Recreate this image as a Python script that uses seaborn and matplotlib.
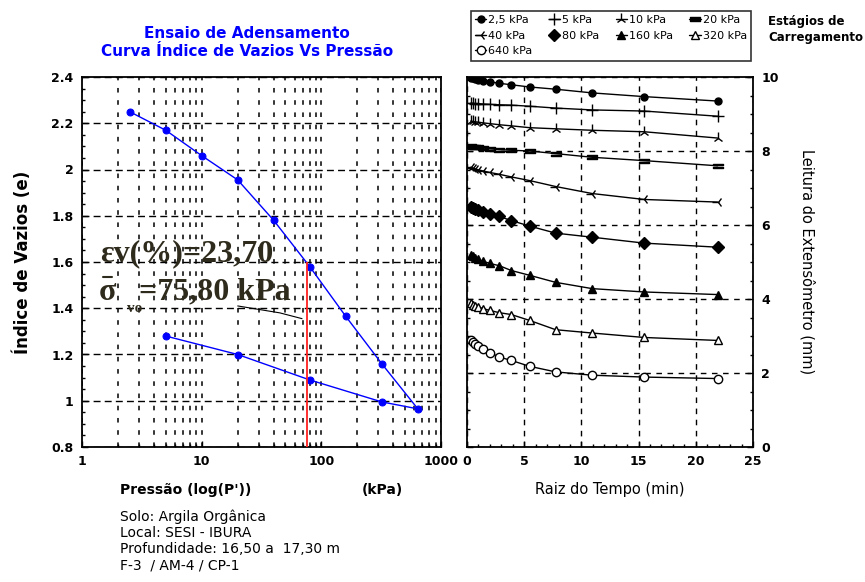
import numpy as np
import pandas as pd
import matplotlib
matplotlib.use("Agg")
import matplotlib.pyplot as plt
from matplotlib.lines import Line2D
from matplotlib.ticker import MultipleLocator, FuncFormatter, LogLocator
import seaborn as sns

# ---------------- data ----------------
pressao = [2.5, 5, 10, 20, 40, 80, 160, 320, 640, 320, 80, 20, 5]
indice_vazios = [2.25, 2.17, 2.06, 1.955, 1.78, 1.58, 1.365, 1.16, 0.965, 0.995, 1.09, 1.20, 1.28]
sigma_vo = 75.8
e_sigma_top = 1.6
ev_txt = "εv(%)=23,70"
sig_txt = "=75,80 kPa"

raiz_tempo = [0.32, 0.5, 0.71, 1.0, 1.41, 2.0, 2.83, 3.87, 5.48, 7.75, 10.95, 15.49, 21.91]
estagios = ["2,5 kPa", "5 kPa", "10 kPa", "20 kPa", "40 kPa", "80 kPa", "160 kPa", "320 kPa", "640 kPa"]
leit_2_5 = [9.97, 9.96, 9.95, 9.93, 9.90, 9.87, 9.83, 9.79, 9.73, 9.67, 9.57, 9.47, 9.35]
leit_5 = [9.29, 9.29, 9.28, 9.28, 9.27, 9.26, 9.25, 9.24, 9.21, 9.16, 9.11, 9.08, 8.94]
leit_10 = [8.81, 8.80, 8.79, 8.78, 8.76, 8.74, 8.71, 8.68, 8.63, 8.60, 8.56, 8.52, 8.35]
leit_20 = [8.13, 8.12, 8.11, 8.10, 8.08, 8.06, 8.04, 8.02, 8.00, 7.93, 7.83, 7.74, 7.60]
leit_40 = [7.56, 7.54, 7.52, 7.49, 7.46, 7.42, 7.37, 7.30, 7.20, 7.04, 6.85, 6.69, 6.62]
leit_80 = [6.49, 6.46, 6.43, 6.40, 6.35, 6.30, 6.23, 6.12, 5.97, 5.78, 5.67, 5.51, 5.40]
leit_160 = [5.19, 5.15, 5.11, 5.07, 5.02, 4.96, 4.90, 4.77, 4.64, 4.45, 4.28, 4.19, 4.12]
leit_320 = [3.88, 3.85, 3.82, 3.78, 3.74, 3.69, 3.63, 3.58, 3.42, 3.17, 3.08, 2.96, 2.88]
leit_640 = [2.88, 2.84, 2.79, 2.73, 2.66, 2.55, 2.43, 2.34, 2.18, 2.03, 1.94, 1.89, 1.85]
leituras = [leit_2_5, leit_5, leit_10, leit_20, leit_40, leit_80, leit_160, leit_320, leit_640]

info_txt = "Solo: Argila Orgânica\nLocal: SESI - IBURA\nProfundidade: 16,50 a  17,30 m\nF-3  / AM-4 / CP-1"

# ---------------- style ----------------
sns.set_theme(style="white", rc={
    "xtick.direction": "in", "ytick.direction": "in",
    "axes.edgecolor": "black", "axes.linewidth": 1.3,
    "text.color": "black", "axes.labelcolor": "black",
    "xtick.color": "black", "ytick.color": "black",
})
plt.rcParams["font.family"] = ["DejaVu Sans"]

W, H = 865, 582
fig = plt.figure(figsize=(W / 100, H / 100), dpi=100)

def fx(px):
    return px / W

def fy(py):
    return 1 - py / H

ax1 = fig.add_axes([fx(82), fy(447), fx(441) - fx(82), fy(77) - fy(447)])
ax2 = fig.add_axes([fx(467), fy(447), fx(753) - fx(467), fy(77) - fy(447)])

# ---------------- left plot ----------------
df1 = pd.DataFrame({"P": pressao, "e": indice_vazios})
sns.lineplot(data=df1, x="P", y="e", sort=False, estimator=None, errorbar=None, ax=ax1,
             color="#0000ff", marker="o", markersize=5, markeredgecolor="#0000ff", linewidth=1)
ax1.set_xscale("log")
ax1.set_xlim(1, 1000)
ax1.set_ylim(0.8, 2.4)
ax1.yaxis.set_major_locator(MultipleLocator(0.2))
ax1.yaxis.set_minor_locator(MultipleLocator(0.05))
ax1.xaxis.set_major_locator(LogLocator(base=10))
ax1.xaxis.set_minor_locator(LogLocator(base=10, subs=np.arange(2, 10)))
ax1.xaxis.set_major_formatter(FuncFormatter(lambda v, p: f"{v:g}"))
ax1.xaxis.set_minor_formatter(FuncFormatter(lambda v, p: ""))
ax1.yaxis.set_major_formatter(FuncFormatter(lambda v, p: f"{v:g}"))
ax1.grid(True, axis="y", which="major", color="black", linestyle=(0, (5, 3)), linewidth=1)
ax1.grid(True, axis="x", which="both", color="black", linestyle=(0, (3, 5)), linewidth=1.1)
ax1.tick_params(axis="both", which="major", length=4, width=1, labelsize=9, pad=6,
                left=True, bottom=True, right=False, top=False)
ax1.tick_params(axis="both", which="minor", length=2.5, width=1, left=True, bottom=True)
for lab in ax1.get_xticklabels() + ax1.get_yticklabels():
    lab.set_fontweight("bold")
ax1.set_xlabel("")
ax1.set_ylabel("Índice de Vazios (e)", fontsize=12, fontweight="bold", labelpad=14)
ax1.vlines(sigma_vo, 0.8, e_sigma_top, color="#ff2020", linewidth=1.3, zorder=3)
ax1.plot([20, 45, 69], [1.41, 1.38, 1.355], color="black", linewidth=0.8)

fig.text(fx(247), fy(33), "Ensaio de Adensamento", color="#0000ff", fontsize=11,
         fontweight="bold", ha="center", va="center")
fig.text(fx(247), fy(52), "Curva Índice de Vazios Vs Pressão", color="#0000ff", fontsize=11,
         fontweight="bold", ha="center", va="center")

serif = ["Liberation Serif", "DejaVu Serif"]
tcol = "#2e2a1c"
fig.text(fx(100), fy(254), ev_txt, family=serif, fontsize=23, fontweight="bold",
         color=tcol, va="center", ha="left")
fig.text(fx(99), fy(292), "σ", family=serif, fontsize=23, fontweight="bold",
         color=tcol, va="center", ha="left")
fig.add_artist(Line2D([fx(103), fx(112)], [fy(277), fy(277)], color=tcol, linewidth=1.5))
fig.text(fx(127), fy(309), "vo", family=serif, fontsize=11, fontweight="bold",
         color=tcol, va="center", ha="left")
fig.text(fx(139), fy(292), sig_txt, family=serif, fontsize=23, fontweight="bold",
         color=tcol, va="center", ha="left")

fig.text(fx(120), fy(490), "Pressão (log(P'))", fontsize=10, fontweight="bold",
         va="center", ha="left")
fig.text(fx(362), fy(490), "(kPa)", fontsize=10, fontweight="bold", va="center", ha="left")
fig.text(fx(120), fy(509), info_txt, fontsize=10, va="top", ha="left", linespacing=1.2)

# ---------------- right plot ----------------
marcadores = ["o", "+", "2", "$=$", "3", "D", "^", "^", "o"]
abertos = [False, False, False, False, False, False, False, True, True]
tamanhos = [5, 9, 8, 7, 8, 6, 6, 6, 6]
for nome, vals, mk, ab, ms in zip(estagios, leituras, marcadores, abertos, tamanhos):
    d = pd.DataFrame({"raiz": raiz_tempo, "leitura": vals})
    sns.lineplot(data=d, x="raiz", y="leitura", ax=ax2, color="black", linewidth=1,
                 marker=mk, markersize=ms, markeredgewidth=1,
                 markerfacecolor=("white" if ab else "black"),
                 markeredgecolor="black", label=nome, sort=False, estimator=None)

ax2.set_xlim(0, 25)
ax2.set_ylim(0, 10)
ax2.xaxis.set_major_locator(MultipleLocator(5))
ax2.xaxis.set_minor_locator(MultipleLocator(1))
ax2.yaxis.set_major_locator(MultipleLocator(2))
ax2.yaxis.set_minor_locator(MultipleLocator(0.5))
ax2.grid(True, which="major", color="black", linestyle=(0, (4, 4)), linewidth=1)
ax2.tick_params(axis="both", which="major", length=4, width=1, labelsize=9, pad=6,
                left=True, right=True, bottom=True, top=False,
                labelleft=False, labelright=True)
ax2.tick_params(axis="both", which="minor", length=2.5, width=1,
                left=True, right=True, bottom=True)
for lab in ax2.get_xticklabels() + ax2.get_yticklabels():
    lab.set_fontweight("bold")
ax2.set_xlabel("Raiz do Tempo (min)", fontsize=10.5, labelpad=10)
ax2.yaxis.set_label_position("right")
ax2.set_ylabel("Leitura do Extensômetro (mm)", fontsize=10.5, rotation=270, labelpad=26)

h, l = ax2.get_legend_handles_labels()
ax2.get_legend().remove()
ordem = [0, 4, 8, 1, 5, 2, 6, 3, 7]
leg = fig.legend([h[i] for i in ordem], [l[i] for i in ordem], loc="upper left", ncol=4,
                 mode="expand",
                 bbox_to_anchor=(fx(465), fy(66), fx(757) - fx(465), fy(5) - fy(66)),
                 fontsize=8, handlelength=1.0, handletextpad=0.2, columnspacing=0.6,
                 labelspacing=0.5, borderpad=0.4, frameon=True, fancybox=False)
leg.get_frame().set_edgecolor("black")
leg.get_frame().set_linewidth(1.2)

fig.text(fx(768), fy(30), "Estágios de\nCarregamento", fontsize=8.5, fontweight="bold",
         va="center", ha="left", linespacing=1.3)

fig.savefig("out.png", dpi=100)
